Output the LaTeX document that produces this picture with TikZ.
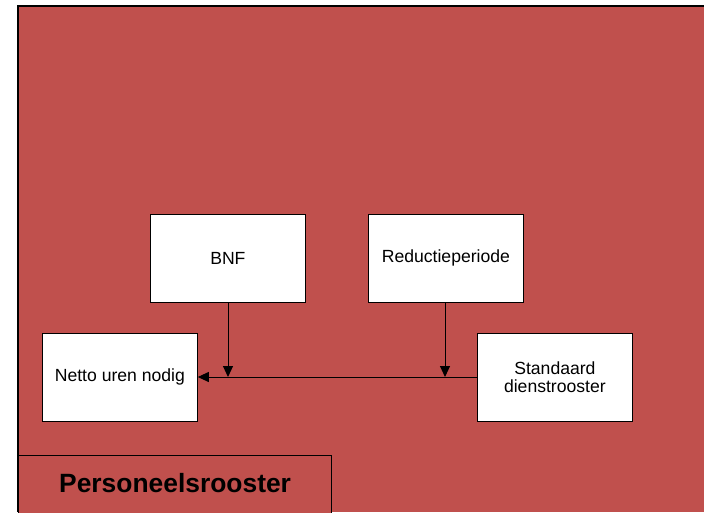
\documentclass[tikz,border=0pt]{standalone}
\usepackage{fontspec}
\setmainfont{Liberation Sans}
\usetikzlibrary{arrows.meta}
\definecolor{bgred}{HTML}{C0504D}
\begin{document}
\begin{tikzpicture}[x=1pt,y=-1pt,
  box/.style={draw=black,line width=0.8pt,fill=white,minimum width=155pt,minimum height=88pt,inner sep=2pt,align=center,font=\fontsize{17.6}{21}\selectfont},
  conn/.style={draw=black,line width=1pt,-{Triangle[length=11pt,width=10pt]}}]
\useasboundingbox (0,0) rectangle (704,512);
\fill[white] (0,0) rectangle (704,512);
\fill[bgred] (18,6) rectangle (704,512);
\draw[black,line width=1.2pt] (18,512) -- (18,6) -- (704,6);
\node[box,anchor=north west] (bnf) at (150,214) {BNF};
\node[box,anchor=north west] (red) at (368,214) {Reductieperiode};
\node[box,anchor=north west] (net) at (42,333) {Netto uren nodig};
\node[box,anchor=north west] (std) at (477,333) {Standaard\\[-3pt]dienstrooster};
\node[draw=black,line width=1.2pt,fill=bgred,anchor=north west,minimum width=313pt,minimum height=70pt,inner sep=0pt,font=\bfseries\fontsize{26.4}{30}\selectfont] (per) at (18,455) {\raisebox{16pt}{Personeelsrooster}};
\coordinate (j1) at (228,377);
\coordinate (j2) at (445,377);
\draw[conn] (std.west |- 0,377) -- (net.east |- 0,377);
\draw[conn] (bnf.south -| j1) -- (j1);
\draw[conn] (red.south -| j2) -- (j2);
\end{tikzpicture}
\end{document}
